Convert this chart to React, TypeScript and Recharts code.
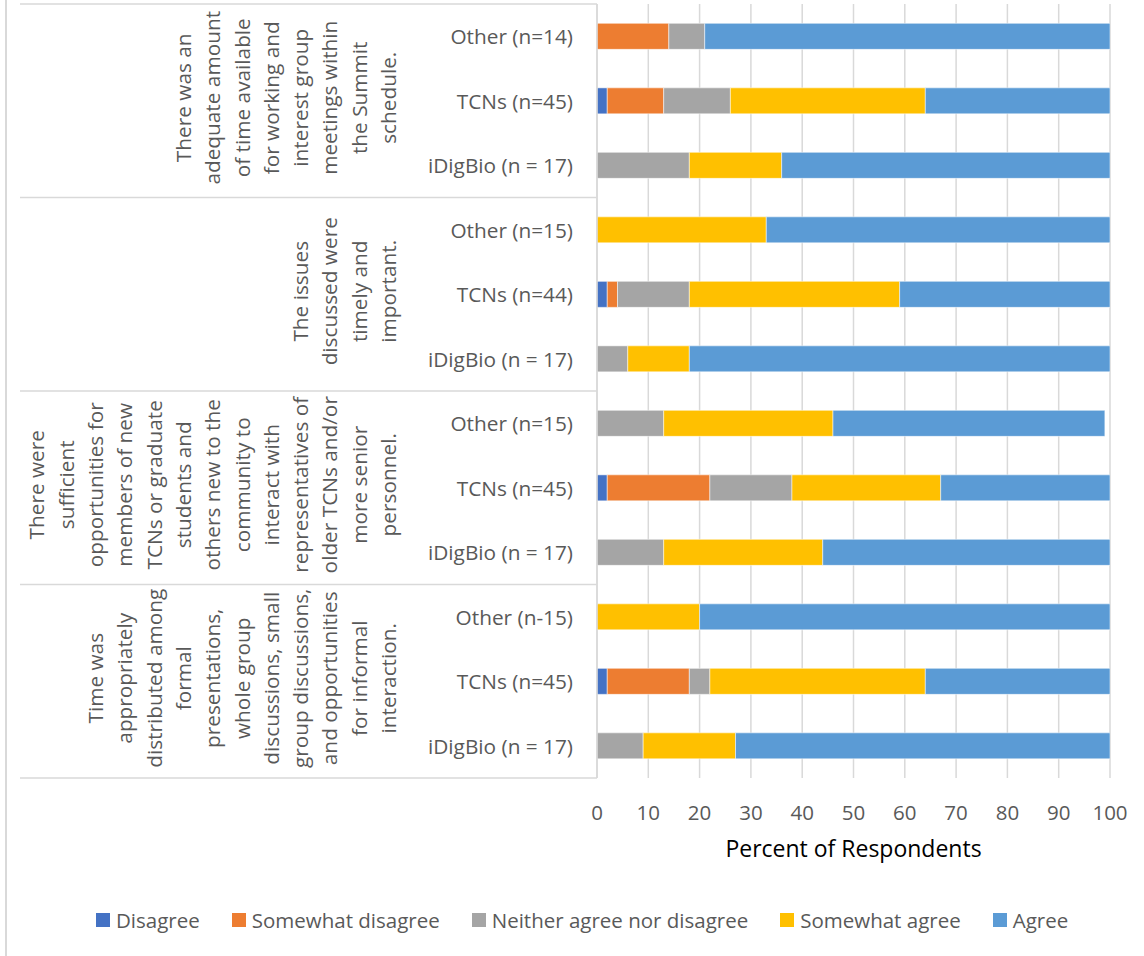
import React from "react";
import { Bar, BarChart, CartesianGrid, XAxis, YAxis } from "recharts";

const rowLabels = [
  "Other (n=14)", "TCNs (n=45)", "iDigBio (n = 17)",
  "Other (n=15)", "TCNs (n=44)", "iDigBio (n = 17)",
  "Other (n=15)", "TCNs (n=45)", "iDigBio (n = 17)",
  "Other (n-15)", "TCNs (n=45)", "iDigBio (n = 17)",
];

const groupLabels = [
  ["There was an", "adequate amount", "of time available", "for working and", "interest group", "meetings within", "the Summit", "schedule."],
  ["The issues", "discussed were", "timely and", "important."],
  ["There were", "sufficient", "opportunities for", "members of new", "TCNs or graduate", "students and", "others new to the", "community to", "interact with", "representatives of", "older TCNs and/or", "more senior", "personnel."],
  ["Time was", "appropriately", "distributed among", "formal", "presentations,", "whole group", "discussions, small", "group discussions,", "and opportunities", "for informal", "interaction."],
];

const disagree = [0, 2, 0, 0, 2, 0, 0, 2, 0, 0, 2, 0];
const somewhatDisagree = [14, 11, 0, 0, 2, 0, 0, 20, 0, 0, 16, 0];
const neither = [7, 13, 18, 0, 14, 6, 13, 16, 13, 0, 4, 9];
const somewhatAgree = [0, 38, 18, 33, 41, 12, 33, 29, 31, 20, 42, 18];
const agree = [79, 36, 65, 67, 41, 82, 53, 33, 56, 80, 36, 74];

const xTicks = [0, 10, 20, 30, 40, 50, 60, 70, 80, 90, 100];

const series = [
  { key: "disagree", name: "Disagree", color: "#4472C4" },
  { key: "somewhatDisagree", name: "Somewhat disagree", color: "#ED7D31" },
  { key: "neither", name: "Neither agree nor disagree", color: "#A5A5A5" },
  { key: "somewhatAgree", name: "Somewhat agree", color: "#FFC000" },
  { key: "agree", name: "Agree", color: "#5B9BD5" },
];

const data = rowLabels.map((label, i) => ({
  id: `r${i}`,
  label,
  disagree: disagree[i],
  somewhatDisagree: somewhatDisagree[i],
  neither: neither[i],
  somewhatAgree: somewhatAgree[i],
  agree: agree[i],
}));

const W = 1144;
const H = 956;
const PLOT_LEFT = 597;
const PLOT_TOP = 4;
const PLOT_BOTTOM = 778;
const ROW_H = (PLOT_BOTTOM - PLOT_TOP) / rowLabels.length;
const FONT = '"Open Sans", sans-serif';
const GREY_TEXT = "#595959";
const LINE_COLOR = "#d9d9d9";

function RowTick(props: any) {
  const { x, y, payload } = props;
  const i = Number(String(payload.value).slice(1));
  const lines = groupLabels[Math.floor(i / 3)];
  return (
    <g>
      <text x={x} y={y} textAnchor="end" dominantBaseline="central" fill={GREY_TEXT} fontSize={20.8} fontFamily={FONT}>
        {rowLabels[i]}
      </text>
      {i % 3 === 0 && (
        <line x1={20} x2={PLOT_LEFT} y1={y - ROW_H / 2} y2={y - ROW_H / 2} stroke={LINE_COLOR} strokeWidth={1.5} />
      )}
      {i === rowLabels.length - 1 && (
        <line x1={20} x2={PLOT_LEFT} y1={y + ROW_H / 2} y2={y + ROW_H / 2} stroke={LINE_COLOR} strokeWidth={1.5} />
      )}
      {i % 3 === 1 &&
        lines.map((line, j) => {
          const lx = 388 - (lines.length - 1 - j) * 29.3;
          const cy = y - 3;
          return (
            <text
              key={j}
              x={lx}
              y={cy}
              transform={`rotate(-90 ${lx} ${cy})`}
              textAnchor="middle"
              dominantBaseline="central"
              fill={GREY_TEXT}
              fontSize={20.8}
              fontFamily={FONT}
            >
              {line}
            </text>
          );
        })}
    </g>
  );
}

function PercentTick(props: any) {
  const { x, y, payload } = props;
  return (
    <text x={x} y={y + 32} textAnchor="middle" dominantBaseline="central" fill={GREY_TEXT} fontSize={20.5} fontFamily={FONT}>
      {payload.value}
    </text>
  );
}

export default function App() {
  return (
    <div style={{ position: "absolute", left: 0, top: 0, width: W, height: H, background: "#fff", fontFamily: FONT }}>
      <div style={{ position: "absolute", left: 5, top: 0, width: 1.5, height: H, background: LINE_COLOR }} />
      <BarChart
        width={W}
        height={H}
        data={data}
        layout="vertical"
        margin={{ top: PLOT_TOP, right: W - 1110, bottom: 0, left: 0 }}
        barCategoryGap="30%"
      >
        <CartesianGrid horizontal={false} stroke={LINE_COLOR} strokeWidth={1.5} />
        <XAxis
          type="number"
          domain={[0, 100]}
          ticks={xTicks}
          allowDataOverflow
          axisLine={false}
          tickLine={false}
          tickSize={0}
          height={H - PLOT_BOTTOM}
          tick={<PercentTick />}
          label={{ value: "Percent of Respondents", position: "insideTop", offset: 63, fill: "#000", fontSize: 23, fontFamily: FONT }}
        />
        <YAxis
          type="category"
          dataKey="id"
          width={PLOT_LEFT}
          axisLine={{ stroke: LINE_COLOR, strokeWidth: 1.5 }}
          tickLine={false}
          tickSize={0}
          tickMargin={24}
          interval={0}
          tick={<RowTick />}
        />
        {series.map((s) => (
          <Bar
            key={s.key}
            dataKey={s.key}
            name={s.name}
            stackId="a"
            fill={s.color}
            stroke="#ffffff"
            strokeOpacity={0.5}
            strokeWidth={1}
            isAnimationActive={false}
          />
        ))}
      </BarChart>
      <div
        style={{
          position: "absolute",
          left: 96,
          top: 906,
          display: "flex",
          alignItems: "center",
          gap: 32,
          fontSize: 20.5,
          color: GREY_TEXT,
          whiteSpace: "nowrap",
        }}
      >
        {series.map((s) => (
          <div key={s.key} style={{ display: "flex", alignItems: "center", gap: 6 }}>
            <span style={{ width: 14, height: 14, background: s.color, display: "inline-block" }} />
            <span style={{ lineHeight: "28px" }}>{s.name}</span>
          </div>
        ))}
      </div>
    </div>
  );
}
